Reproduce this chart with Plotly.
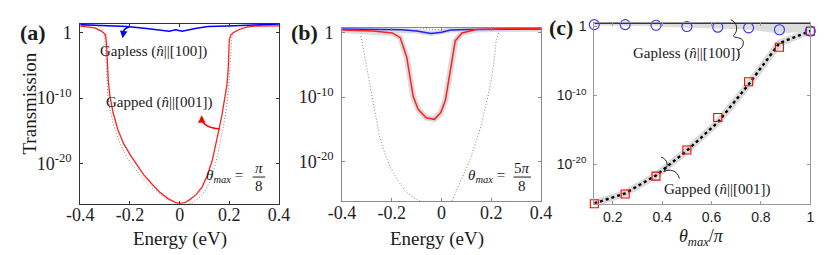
import numpy as np
import plotly.graph_objects as go

W, H = 831, 255

# ---------------- data (energies in eV, transmissions as log10 values) -------------
# Panel (a): theta_max = pi/8
E_gapped_a = [-0.4, -0.341, -0.315, -0.298, -0.294, -0.291, -0.287, -0.28, -0.268, -0.249, -0.225, -0.197,
              -0.17, -0.145, -0.11, -0.08, -0.045, -0.014, 0.0, 0.02, 0.038, 0.065, 0.09, 0.11, 0.13, 0.145,
              0.156, 0.17, 0.182, 0.19, 0.195, 0.198, 0.2, 0.205, 0.215, 0.24, 0.27, 0.3, 0.4]
logT_gapped_a = [1.0, 0.75, 0.25, -0.3, -2.0, -4.5, -7.5, -9.8, -12.2, -14.8, -17.0, -18.8,
                 -20.4, -21.7, -23.2, -24.4, -25.4, -26.0, -26.1, -26.0, -25.6, -24.8, -23.6, -21.9, -19.7, -17.3,
                 -15.2, -12.6, -10.2, -8.0, -5.8, -3.5, -1.0, -0.4, 0.0, 0.5, 0.85, 1.0, 1.05]
E_ref_a = [-0.4, -0.33, -0.31, -0.302, -0.298, -0.295, -0.29, -0.282, -0.265, -0.24, -0.21, -0.175, -0.14,
           -0.1, -0.06, -0.02, 0.02, 0.05, 0.08, 0.105, 0.125, 0.145, 0.16, 0.175, 0.188, 0.197, 0.203,
           0.206, 0.21, 0.22, 0.25, 0.3, 0.4]
logT_ref_a = [1.2, 1.1, 0.6, -0.5, -3.0, -6.0, -9.0, -11.5, -14.3, -17.0, -19.2, -21.0, -22.6,
              -24.1, -25.3, -26.0, -26.3, -26.0, -25.2, -24.0, -22.5, -20.0, -17.5, -14.5, -11.5, -8.5, -5.0,
              -2.0, -0.6, 0.1, 0.8, 1.1, 1.2]
E_gapless_a = [-0.4, -0.302, -0.211, -0.133, -0.081, -0.042, -0.016, 0.01, 0.062, 0.114, 0.192, 0.296, 0.4]
logT_gapless_a = [1.24, 1.14, 0.94, 0.64, 0.45, 0.24, 0.45, 0.24, 0.64, 0.94, 1.05, 1.2, 1.32]

# Panel (b): theta_max = 5pi/8
E_gapped_b = [-0.4, -0.276, -0.198, -0.166, -0.14, -0.127, -0.114, -0.094, -0.062, -0.029, -0.003, 0.016,
              0.029, 0.042, 0.055, 0.082, 0.14, 0.25, 0.4]
logT_gapped_b = [0.45, 0.3, 0.0, -0.74, -3.8, -6.85, -9.9, -11.9, -13.2, -13.45, -12.4, -10.4,
                 -7.35, -4.3, -1.25, 0.0, 0.53, 0.65, 0.69]
E_gapless_b = [-0.4, -0.265, -0.16, -0.1, -0.042, 0.0, 0.036, 0.114, 0.4]
logT_gapless_b = [0.6, 0.55, 0.5, 0.3, -0.1, 0.1, 0.45, 0.55, 0.6]
E_ref_b = [-0.4, -0.34, -0.328, -0.315, -0.3, -0.289, -0.27, -0.25, -0.228, -0.204, -0.175, -0.145, -0.11,
           -0.08, -0.04, 0.0, 0.04, 0.064, 0.09, 0.116, 0.135, 0.155, 0.175, 0.195, 0.21, 0.22, 0.233,
           0.26, 0.4]
logT_ref_b = [0.75, 0.7, 0.3, -2.5, -5.5, -7.9, -12.0, -16.0, -18.8, -21.1, -23.0, -24.7, -25.7,
              -26.3, -27.5, -27.5, -26.3, -24.2, -22.0, -19.6, -17.3, -15.0, -11.8, -8.4, -4.8, -1.25, 0.3,
              0.65, 0.75]
E_refgapless_b = [-0.4, -0.1, -0.05, 0.0, 0.05, 0.1, 0.4]
logT_refgapless_b = [0.9, 0.9, 0.6, 0.5, 0.8, 0.9, 0.9]

# Panel (c): vs theta_max/pi
theta_c = [0.125, 0.25, 0.375, 0.5, 0.625, 0.75, 0.875, 1.0]
logT_gapless_c = [0.28, 0.28, 0.18, 0.0, -0.1, -0.19, -0.47, -0.67]
logT_gapped_c = [-25.7, -24.3, -21.7, -17.9, -13.2, -8.0, -3.0, -0.67]
logT_gapped_line_c = [-25.65, -24.2, -21.6, -18.0, -13.9, -8.4, -2.4, -0.67]
logT_gapless_top_c = [0.5, 0.5, 0.5, 0.5, 0.5, 0.5, 0.5, 0.5]
logT_gapless_low_c = [0.25, 0.2, 0.1, -0.1, -0.2, -0.35, -0.95, -0.6]

y_tickvals = [1e-20, 1e-10, 1]
y_ticktext = ['10<sup>-20</sup>', '10<sup>-10</sup>', '1']
xe_tickvals = [-0.4, -0.2, 0, 0.2, 0.4]
xe_ticktext = ['-0.4', '-0.2', '0', '0.2', '0.4']
xc_tickvals = [0.2, 0.4, 0.6, 0.8, 1.0]
xc_ticktext = ['0.2', '0.4', '0.6', '0.8', '1']


def T(v):
    return 10.0 ** np.array(v)


def px(x):
    return x / W


def py(y):
    return 1 - y / H


fig = go.Figure()

# ---- panel a ----
fig.add_trace(go.Scatter(x=E_ref_a, y=T(logT_ref_a), mode='lines',
                         line=dict(color='#808080', width=1, dash='1px,2px'), xaxis='x', yaxis='y'))
fig.add_trace(go.Scatter(x=E_gapped_a, y=T(logT_gapped_a), mode='lines',
                         line=dict(color='#ff2020', width=1.3), xaxis='x', yaxis='y'))
fig.add_trace(go.Scatter(x=E_gapless_a, y=T(logT_gapless_a), mode='lines',
                         line=dict(color='#0000ff', width=1.5), xaxis='x', yaxis='y'))

# ---- panel b ----
fig.add_trace(go.Scatter(x=E_ref_b, y=T(logT_ref_b), mode='lines',
                         line=dict(color='#808080', width=1, dash='1px,2px'), xaxis='x2', yaxis='y2'))
fig.add_trace(go.Scatter(x=E_refgapless_b, y=T(logT_refgapless_b), mode='lines',
                         line=dict(color='#808080', width=1, dash='1px,2px'), xaxis='x2', yaxis='y2'))
fig.add_trace(go.Scatter(x=E_gapless_b, y=T(logT_gapless_b), mode='lines',
                         line=dict(color='#dadada', width=5), xaxis='x2', yaxis='y2'))
fig.add_trace(go.Scatter(x=E_gapped_b, y=T(logT_gapped_b), mode='lines',
                         line=dict(color='#dcdcdc', width=6), xaxis='x2', yaxis='y2'))
fig.add_trace(go.Scatter(x=E_gapless_b, y=T(logT_gapless_b), mode='lines',
                         line=dict(color='#2020ff', width=1.5), xaxis='x2', yaxis='y2'))
fig.add_trace(go.Scatter(x=E_gapped_b, y=T(logT_gapped_b), mode='lines',
                         line=dict(color='#ff2020', width=1.5), xaxis='x2', yaxis='y2'))

# ---- panel c ----
fig.add_trace(go.Scatter(x=theta_c, y=T(logT_gapless_top_c), mode='lines',
                         line=dict(color='rgba(0,0,0,0)', width=0), xaxis='x3', yaxis='y3'))
fig.add_trace(go.Scatter(x=theta_c, y=T(logT_gapless_low_c), mode='lines', fill='tonexty',
                         fillcolor='#dcdcdc', line=dict(color='#dcdcdc', width=1), xaxis='x3', yaxis='y3'))
fig.add_trace(go.Scatter(x=theta_c, y=T(logT_gapless_top_c), mode='lines',
                         line=dict(color='black', width=1.3), xaxis='x3', yaxis='y3', cliponaxis=False))
fig.add_trace(go.Scatter(x=theta_c, y=T(logT_gapped_line_c), mode='lines',
                         line=dict(color='#dadada', width=7), xaxis='x3', yaxis='y3'))
fig.add_trace(go.Scatter(x=theta_c, y=T(logT_gapped_line_c), mode='lines',
                         line=dict(color='black', width=2.4, dash='dot'), xaxis='x3', yaxis='y3'))
fig.add_trace(go.Scatter(x=theta_c, y=T(logT_gapped_c), mode='markers', cliponaxis=False,
                         marker=dict(symbol='square-open', size=8, color='#ff0000', line=dict(width=1.1)),
                         xaxis='x3', yaxis='y3'))
fig.add_trace(go.Scatter(x=theta_c, y=T(logT_gapless_c), mode='markers', cliponaxis=False,
                         marker=dict(symbol='circle-open', size=10, color='#3333ff', line=dict(width=1.1)),
                         xaxis='x3', yaxis='y3'))

serif = 'Liberation Serif'
tick_serif = dict(family=serif, size=18, color='#222222')
tick_sans = dict(family='Liberation Sans', size=14, color='#222222')


def xax(domain, rng, tv, tt, font, color, anchor, standoff):
    return dict(domain=domain, range=rng, tickvals=tv, ticktext=tt, tickfont=font,
                showline=True, mirror='ticks', linecolor=color, linewidth=1, ticks='inside',
                ticklen=3, tickcolor=color, showgrid=False, zeroline=False, anchor=anchor,
                ticklabelstandoff=standoff)


def yax(domain, rng, font, color, anchor):
    return dict(domain=domain, type='log', range=rng, tickvals=y_tickvals, ticktext=y_ticktext,
                tickfont=font, showline=True, mirror='ticks', linecolor=color, linewidth=1,
                ticks='inside', ticklen=3, tickcolor=color, showgrid=False, zeroline=False,
                anchor=anchor, ticklabelstandoff=4)


fig.update_layout(
    width=W, height=H, margin=dict(l=0, r=0, t=0, b=0),
    paper_bgcolor='white', plot_bgcolor='white', showlegend=False,
    xaxis=xax([px(68.3), px(273.3)], [-0.4, 0.4], xe_tickvals, xe_ticktext, tick_serif, '#333333', 'y', -5),
    yaxis=yax([py(202.7), py(19.3)], [-26.15, 1.35], tick_serif, '#333333', 'x'),
    xaxis2=xax([px(338.3), px(543.3)], [-0.4, 0.4], xe_tickvals, xe_ticktext, tick_serif, '#8a8a8a', 'y2', -5),
    yaxis2=yax([py(200), py(23.3)], [-26.18, 0.79], tick_serif, '#8a8a8a', 'x2'),
    xaxis3=xax([px(598.3), px(821)], [0.125, 1.0], xc_tickvals, xc_ticktext, tick_sans, '#9a9a9a', 'y3', 0),
    yaxis3=yax([py(202.7), py(18.3)], [-25.7, 0.52], tick_sans, '#9a9a9a', 'x3'),
)

ann = []


def text(x, y, s, size=15, family=serif, xanchor='center', **kw):
    ann.append(dict(x=px(x), y=py(y), xref='paper', yref='paper', text=s, showarrow=False,
                    font=dict(family=family, size=size, color='#1a1a1a'), xanchor=xanchor,
                    yanchor='middle', **kw))


# panel labels
text(20, 28, '<b>(a)</b>', size=22)
text(300, 28, '<b>(b)</b>', size=22)
text(564, 23, '<b>(c)</b>', size=22)
# axis titles
text(15, 101, 'Transmission', size=19, textangle=-90)
text(171, 239, 'Energy (eV)', size=19)
text(436, 239, 'Energy (eV)', size=19)
text(709, 237, '<i>θ</i><sub><i>max</i></sub>/<i>π</i>', size=18)
# labels in plots
text(87, 47, 'Gapless (<i>n̂</i>||[100])', size=15, xanchor='left')
text(93, 99, 'Gapped (<i>n̂</i>||[001])', size=15, xanchor='left')
text(636, 49, 'Gapless (<i>n̂</i>||[100])', size=15, xanchor='left')
text(668, 188, 'Gapped (<i>n̂</i>||[001])', size=15, xanchor='left')
# theta_max annotations
text(238, 174, '<i>θ</i><sub><i>max</i></sub> =', size=15, xanchor='right')
text(252.5, 166, '<i>π</i>', size=15)
text(252.5, 185, '8', size=15)
text(508, 174, '<i>θ</i><sub><i>max</i></sub> =', size=15, xanchor='right')
text(524, 166, '5<i>π</i>', size=15)
text(524, 185, '8', size=15)

# arrow heads
ann.append(dict(x=px(112), y=py(34), xref='paper', yref='paper', ax=1, ay=-7, text='', showarrow=True,
                arrowhead=2, arrowsize=1, arrowwidth=1.5, arrowcolor='#0000ff'))
ann.append(dict(x=px(193.5), y=py(112.5), xref='paper', yref='paper', ax=0, ay=7, text='', showarrow=True,
                arrowhead=2, arrowsize=1, arrowwidth=1.5, arrowcolor='#ff0000'))
fig.update_layout(annotations=ann)


def P(x, y):
    return f'{px(x):.5f},{py(y):.5f}'


shapes = [
    # fraction bars
    dict(type='line', xref='paper', yref='paper', x0=px(246), x1=px(259), y0=py(175.5), y1=py(175.5),
         line=dict(color='#1a1a1a', width=1)),
    dict(type='line', xref='paper', yref='paper', x0=px(515), x1=px(533), y0=py(175.5), y1=py(175.5),
         line=dict(color='#1a1a1a', width=1)),
    # blue curved arrow (a)
    dict(type='path', xref='paper', yref='paper',
         path=f'M {P(119, 22.5)} Q {P(112, 24)} {P(112.5, 30)}',
         line=dict(color='#0000ff', width=1.5)),
    # red curved arrow (a)
    dict(type='path', xref='paper', yref='paper',
         path=f'M {P(212, 126.5)} Q {P(195, 125)} {P(193.5, 116)}',
         line=dict(color='#ff0000', width=1.5)),
    # brace gapless (c)
    dict(type='path', xref='paper', yref='paper',
         path=f'M {P(739, 15)} C {P(746, 18)} {P(747, 26)} {P(742, 31)} '
              f'C {P(740, 34)} {P(752, 32)} {P(752, 38)} C {P(752, 42)} {P(750, 45)} {P(746, 46)}',
         line=dict(color='#222222', width=1)),
    # brace gapped (c)
    dict(type='path', xref='paper', yref='paper',
         path=f'M {P(667, 155)} C {P(675, 158)} {P(675, 165)} {P(670, 170)} '
              f'C {P(675, 167)} {P(684, 168)} {P(686, 177)}',
         line=dict(color='#222222', width=1)),
]
fig.update_layout(shapes=shapes)

fig.write_html('out.html', config={'displayModeBar': False},
               post_script="document.body.style.margin='0';document.body.style.overflow='hidden';")
